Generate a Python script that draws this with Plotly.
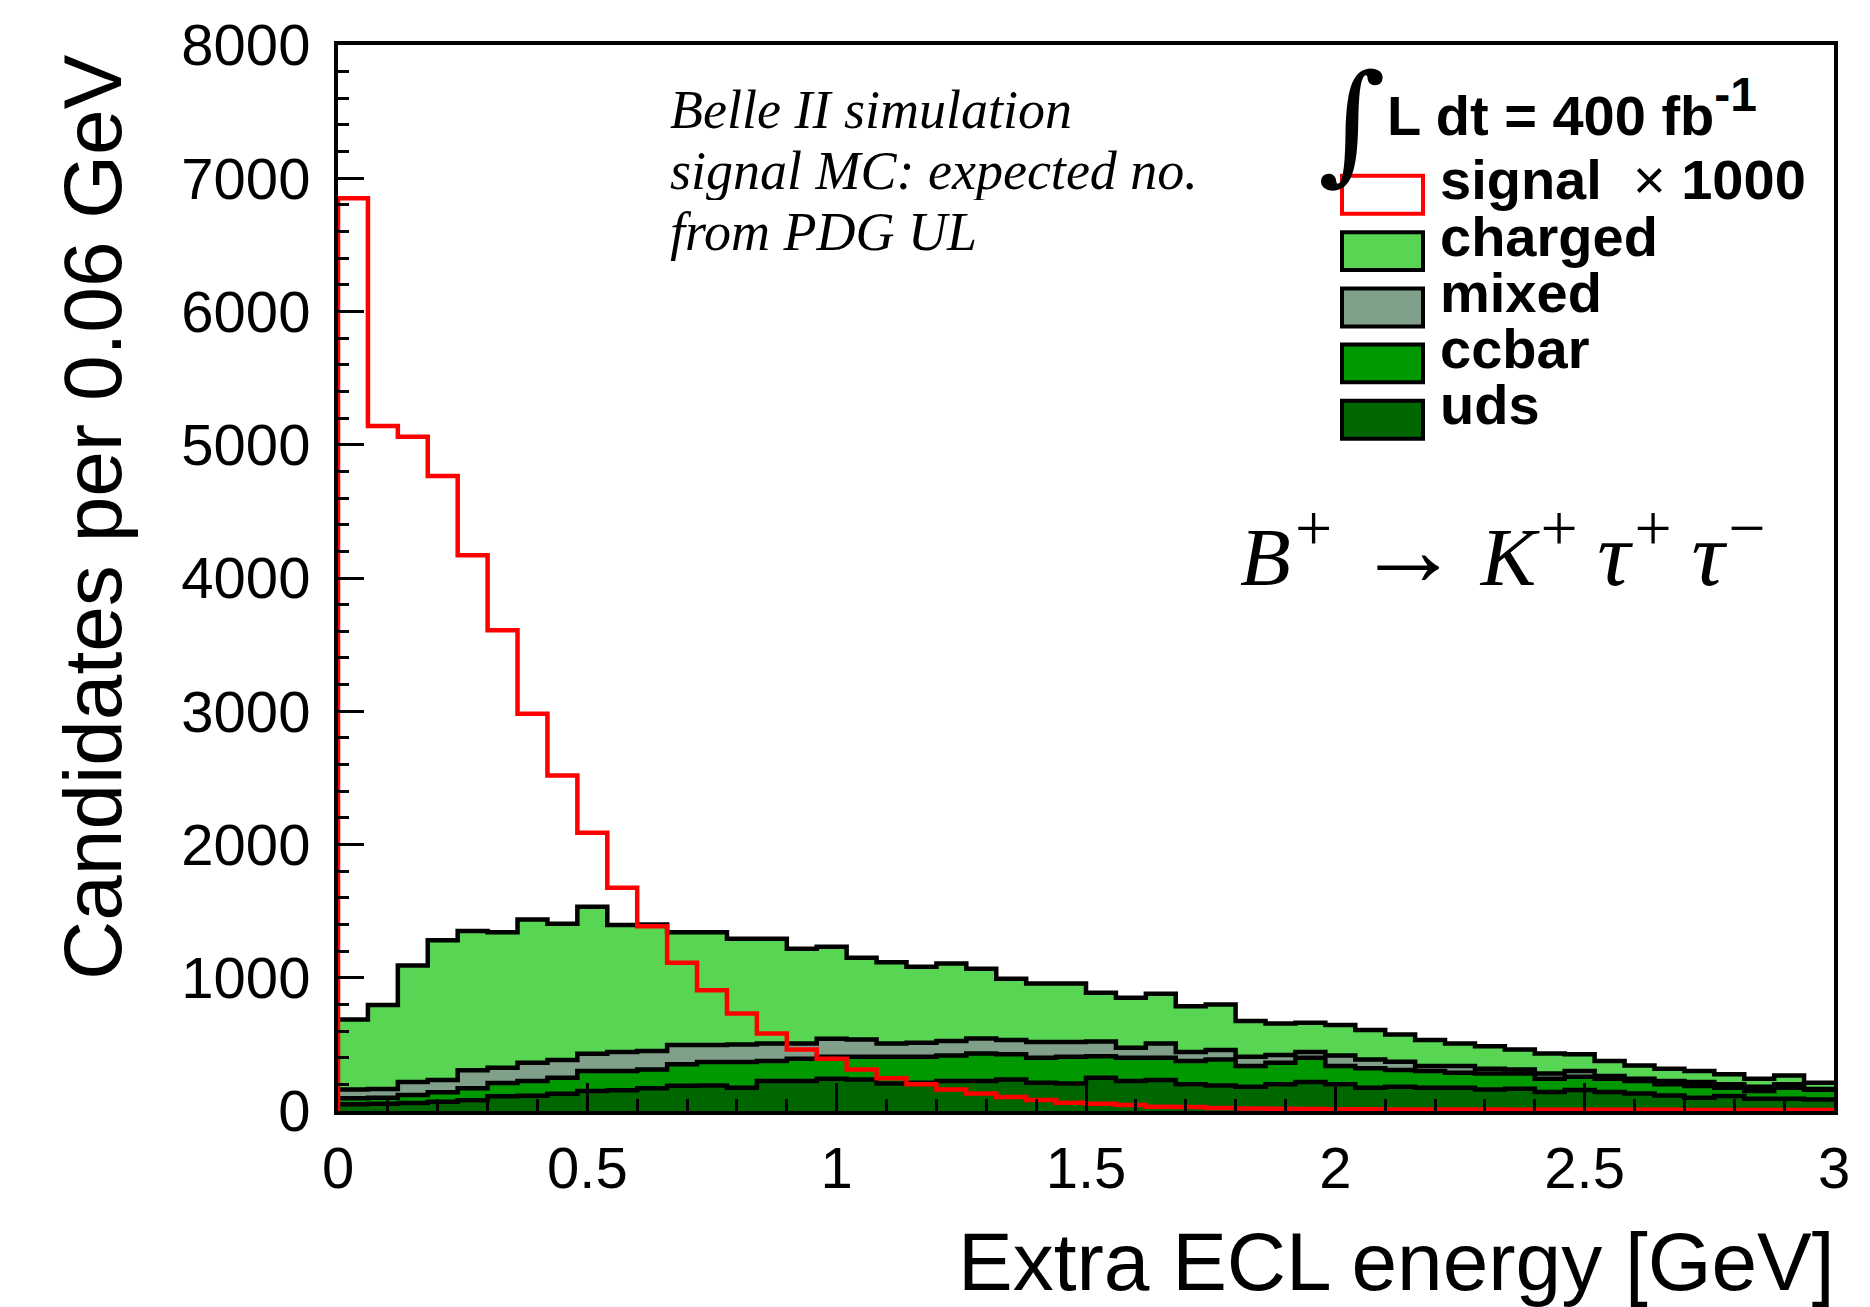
import numpy as np
import plotly.graph_objects as go

# ---------------- data ----------------
BIN_WIDTH = 0.06
N_BINS = 50
edges = np.arange(N_BINS + 1) * BIN_WIDTH

uds = [50, 55, 60, 70, 80, 110, 115, 130, 150, 155, 170, 190, 192, 175, 225, 225, 242, 237, 207, 212,
       225, 225, 237, 212, 207, 250, 225, 232, 200, 192, 182, 200, 217, 200, 175, 182, 175, 175, 162, 167,
       142, 157, 142, 132, 117, 100, 112, 92, 92, 87]
ccbar = [45, 45, 60, 70, 90, 100, 110, 120, 150, 145, 142, 160, 175, 192, 150, 167, 165, 170, 200, 195,
         192, 207, 188, 188, 200, 160, 175, 168, 175, 195, 155, 162, 183, 137, 145, 125, 125, 112, 120, 115,
         100, 100, 100, 93, 83, 87, 63, 58, 83, 73]
mixed = [67, 65, 97, 92, 135, 115, 137, 132, 130, 142, 138, 145, 128, 133, 132, 115, 135, 130, 100, 105,
         108, 113, 107, 117, 110, 112, 75, 107, 67, 70, 70, 58, 42, 80, 67, 63, 37, 50, 36, 30,
         40, 43, 20, 17, 25, 30, 25, 32, 25, 5]
charged = [525, 630, 875, 1050, 1045, 1017, 1075, 1023, 1102, 953, 950, 847, 847, 792, 785, 710, 690, 613, 610, 570,
           582, 522, 460, 440, 440, 365, 375, 373, 345, 343, 268, 237, 220, 228, 220, 205, 195, 170, 167, 150,
           150, 125, 113, 100, 92, 83, 75, 60, 67, 47]
signal_x1000 = [6850, 5140, 5060, 4765, 4170, 3607, 2982, 2518, 2089, 1675, 1387, 1112, 907, 732, 582, 462, 392, 312,
                245, 200, 162, 132, 105, 82, 62, 55, 45, 32, 30, 22, 18, 16, 15, 14, 13, 12, 12, 11, 11, 10,
                10, 10, 9, 9, 9, 8, 8, 8, 8, 8]

components = [("uds", uds, "rgb(0,102,0)"),
              ("ccbar", ccbar, "rgb(0,153,0)"),
              ("mixed", mixed, "rgb(128,160,138)"),
              ("charged", charged, "rgb(89,213,84)")]

legend_labels = ["signal", "charged", "mixed", "ccbar", "uds"]
legend_colors = ["white", "rgb(89,213,84)", "rgb(128,160,138)", "rgb(0,153,0)", "rgb(0,102,0)"]
legend_lines = ["red", "black", "black", "black", "black"]

x_tick_vals = [0, 0.5, 1, 1.5, 2, 2.5, 3]
x_tick_text = ["0", "0.5", "1", "1.5", "2", "2.5", "3"]
y_tick_vals = [0, 1000, 2000, 3000, 4000, 5000, 6000, 7000, 8000]

# ---------------- figure ----------------
W, H = 1870, 1307
ML, MR, MT, MB = 338, 36, 43, 196
PW, PH = W - ML - MR, H - MT - MB


def px2paper_x(X):
    return (X - ML) / PW


def px2paper_y(Y):
    return (H - MB - Y) / PH


def step(vals):
    return list(edges), list(vals) + [vals[-1]]


fig = go.Figure()

cum = np.zeros(N_BINS)
tops = []
for i, (name, vals, col) in enumerate(components):
    cum = cum + np.array(vals, dtype=float)
    tops.append(cum.copy())
    xs, ys = step(list(cum))
    fig.add_trace(go.Scatter(x=xs, y=ys, mode="lines", line=dict(width=0, shape="hv"),
                             fill="tozeroy" if i == 0 else "tonexty", fillcolor=col,
                             name=name, showlegend=False, hoverinfo="skip"))

for top in tops:
    xs, ys = step(list(top))
    fig.add_trace(go.Scatter(x=xs, y=ys, mode="lines", line=dict(width=4.5, color="black", shape="hv"),
                             showlegend=False, hoverinfo="skip"))

xs, ys = step(signal_x1000)
fig.add_trace(go.Scatter(x=[0] + xs, y=[0] + ys, mode="lines",
                         line=dict(width=4.5, color="red", shape="hv"),
                         showlegend=False, hoverinfo="skip"))

axis_font = dict(family="Liberation Sans, Arial, sans-serif", size=58, color="black")

fig.update_xaxes(range=[0, 3], showline=True, linecolor="black", linewidth=4, mirror=True,
                 ticks="inside", ticklen=28, tickwidth=2.5, tickcolor="black",
                 tickvals=x_tick_vals, ticktext=x_tick_text, tickfont=axis_font,
                 ticklabelstandoff=3,
                 minor=dict(dtick=0.1, ticks="inside", ticklen=12, tickwidth=2.5, tickcolor="black"),
                 showgrid=False, zeroline=False)
fig.update_yaxes(range=[0, 8000], showline=True, linecolor="black", linewidth=4, mirror=True,
                 ticks="inside", ticklen=26, tickwidth=2.5, tickcolor="black",
                 tickvals=y_tick_vals, tickfont=axis_font, ticklabelstandoff=12,
                 minor=dict(dtick=200, ticks="inside", ticklen=11, tickwidth=2.5, tickcolor="black"),
                 showgrid=False, zeroline=False)

ann = []
# axis titles
ann.append(dict(text="Extra ECL energy [GeV]", xref="paper", yref="paper", x=1.002, y=px2paper_y(1262),
                xanchor="right", yanchor="middle", showarrow=False,
                font=dict(family="Liberation Sans, Arial, sans-serif", size=82, color="black")))
ann.append(dict(text="Candidates per 0.06 GeV", xref="paper", yref="paper", x=px2paper_x(93),
                y=px2paper_y(50), xanchor="center", yanchor="top", textangle=-90, showarrow=False,
                font=dict(family="Liberation Sans, Arial, sans-serif", size=82, color="black")))

# Belle II text
serif = "Liberation Serif, Times New Roman, serif"
for txt, yb in [("Belle II simulation", 108), ("signal MC: expected no.", 169), ("from PDG UL", 230)]:
    ann.append(dict(text="<i>" + txt + "</i>", xref="paper", yref="paper", x=px2paper_x(668),
                    y=px2paper_y(yb), xanchor="left", yanchor="middle", showarrow=False, height=58,
                    font=dict(family=serif, size=54, color="black")))

# decay
sup = '<sup><span style="font-size:66px">{}</span></sup>'
tau = '<span style="font-size:92px">\u03c4</span>'
decay = ('<i>B' + sup.format('+') + ' <span style="font-size:104px">\u2192</span> K' + sup.format('+')
         + '\u2009' + tau + sup.format('+') + '\u2009' + tau + sup.format('\u2212') + '</i>')
ann.append(dict(text=decay,
                xref="paper", yref="paper", x=px2paper_x(1238), y=px2paper_y(548),
                xanchor="left", yanchor="middle", showarrow=False,
                font=dict(family=serif, size=83, color="black")))

# legend header
bold = "Liberation Sans, Arial, sans-serif"
ann.append(dict(text="\u222b", xref="paper", yref="paper", x=px2paper_x(1352), y=px2paper_y(120),
                xanchor="center", yanchor="middle", showarrow=False,
                font=dict(family="DejaVu Serif, serif", size=130, color="black")))
ann.append(dict(text='<b>L dt = 400 fb<sup><span style="font-size:48px">-1</span></sup></b>',
                xref="paper", yref="paper",
                x=px2paper_x(1385), y=px2paper_y(106), xanchor="left", yanchor="middle", showarrow=False,
                font=dict(family=bold, size=56, color="black")))

shapes = []
box_centers = [193, 249.5, 306, 362, 418.5]
for lab, fc, lc, yc in zip(legend_labels, legend_colors, legend_lines, box_centers):
    shapes.append(dict(type="rect", xref="paper", yref="paper",
                       x0=px2paper_x(1342), x1=px2paper_x(1423),
                       y0=px2paper_y(yc + 19), y1=px2paper_y(yc - 19),
                       fillcolor=fc, line=dict(color=lc, width=4)))
    txt = "<b>signal</b>  \u00d7 <b>1000</b>" if lab == "signal" else "<b>" + lab + "</b>"
    ann.append(dict(text=txt, xref="paper", yref="paper", x=px2paper_x(1438), y=px2paper_y(yc - 15),
                    xanchor="left", yanchor="middle", showarrow=False,
                    font=dict(family=bold, size=56, color="black")))

fig.update_layout(width=W, height=H, margin=dict(l=ML, r=MR, t=MT, b=MB),
                  paper_bgcolor="white", plot_bgcolor="white", showlegend=False,
                  annotations=ann, shapes=shapes)

fig.write_html("out.html")
